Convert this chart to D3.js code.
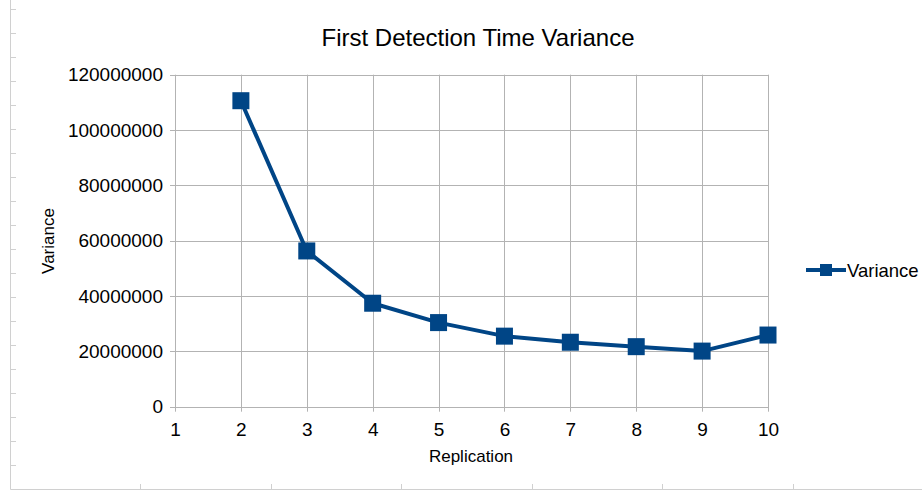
<!DOCTYPE html>
<html><head><meta charset="utf-8">
<script src="https://cdn.jsdelivr.net/npm/d3@7"></script>
<style>body{margin:0;background:#fff;}svg{display:block;font-family:"Liberation Sans",Arial,sans-serif;}</style>
</head><body>
<svg id="c" width="922" height="492"></svg>
<script>
const replications = [2, 3, 4, 5, 6, 7, 8, 9, 10];
const variance = [110600000, 56300000, 37400000, 30400000, 25500000, 23300000, 21700000, 20100000, 25900000];
const xTicks = [1, 2, 3, 4, 5, 6, 7, 8, 9, 10];
const yTicks = [0, 20000000, 40000000, 60000000, 80000000, 100000000, 120000000];
const seriesName = "Variance";
const titleText = "First Detection Time Variance";
const xTitle = "Replication";
const yTitle = "Variance";

const svg = d3.select("#c");
const color = "#004586";
const grid = "#b3b3b3";
const m = {l: 175, r: 768, t: 74.7, b: 406.7};
const x = d3.scaleLinear().domain([1, 10]).range([m.l, m.r]);
const y = d3.scaleLinear().domain([0, 120000000]).range([m.b, m.t]);

// frame (spreadsheet ruler)
const frame = svg.append("g").attr("stroke", "#d0d0d0").attr("stroke-width", 1);
frame.append("line").attr("x1", 10.5).attr("x2", 10.5).attr("y1", 0).attr("y2", 489.5);
frame.append("line").attr("x1", 10.5).attr("x2", 922).attr("y1", 489.5).attr("y2", 489.5);
d3.range(9, 480, 24).forEach(v => frame.append("line").attr("x1", 10.5).attr("x2", 16).attr("y1", v + 0.5).attr("y2", v + 0.5));
d3.range(140, 922, 130.6).forEach(v => frame.append("line").attr("x1", Math.round(v) + 0.5).attr("x2", Math.round(v) + 0.5).attr("y1", 484).attr("y2", 489.5));

// gridlines
const g = svg.append("g");
g.selectAll(".hg").data(yTicks).join("line")
  .attr("x1", m.l - 5).attr("x2", m.r).attr("y1", d => Math.round(y(d)) + 0.5).attr("y2", d => Math.round(y(d)) + 0.5)
  .attr("stroke", grid).attr("stroke-width", 1);
g.selectAll(".vg").data(xTicks).join("line")
  .attr("x1", d => Math.round(x(d)) + 0.5).attr("x2", d => Math.round(x(d)) + 0.5)
  .attr("y1", m.t).attr("y2", m.b + 5)
  .attr("stroke", grid).attr("stroke-width", 1);

// axes labels
const yAxis = d3.axisLeft(y).tickValues(yTicks).tickFormat(d3.format("d")).tickSize(0).tickPadding(12);
const ya = svg.append("g").attr("transform", `translate(${m.l},0)`).call(yAxis);
ya.select(".domain").remove();
ya.selectAll("text").attr("font-size", 19).attr("fill", "#000").attr("font-family", "Liberation Sans, Arial, sans-serif");

const xAxis = d3.axisBottom(x).tickValues(xTicks).tickFormat(d3.format("d")).tickSize(0).tickPadding(16);
const xa = svg.append("g").attr("transform", `translate(0,${m.b})`).call(xAxis);
xa.select(".domain").remove();
xa.selectAll("text").attr("font-size", 19).attr("fill", "#000").attr("font-family", "Liberation Sans, Arial, sans-serif");

// titles
svg.append("text").attr("x", 478).attr("y", 46).attr("text-anchor", "middle")
  .attr("font-size", 24).attr("fill", "#000").text(titleText);
svg.append("text").attr("x", 471).attr("y", 462).attr("text-anchor", "middle")
  .attr("font-size", 17).attr("fill", "#000").text(xTitle);
svg.append("text").attr("transform", "translate(54,241) rotate(-90)").attr("text-anchor", "middle")
  .attr("font-size", 17).attr("fill", "#000").text(yTitle);

// series
const pts = replications.map((r, i) => [r, variance[i]]);
svg.append("path").datum(pts)
  .attr("d", d3.line().x(d => x(d[0])).y(d => y(d[1])))
  .attr("fill", "none").attr("stroke", color).attr("stroke-width", 4).attr("stroke-linejoin", "round");
const ms = 17;
svg.selectAll(".mk").data(pts).join("rect")
  .attr("x", d => x(d[0]) - ms / 2).attr("y", d => y(d[1]) - ms / 2)
  .attr("width", ms).attr("height", ms).attr("fill", color);

// legend
const lg = svg.append("g").attr("transform", "translate(806,270)");
lg.append("line").attr("x1", 0).attr("x2", 40).attr("y1", 0).attr("y2", 0).attr("stroke", color).attr("stroke-width", 4);
lg.append("rect").attr("x", 14).attr("y", -6).attr("width", 12).attr("height", 12).attr("fill", color);
lg.append("text").attr("x", 41).attr("y", 6.5).attr("font-size", 18.5).attr("fill", "#000").text(seriesName);
</script>
</body></html>
